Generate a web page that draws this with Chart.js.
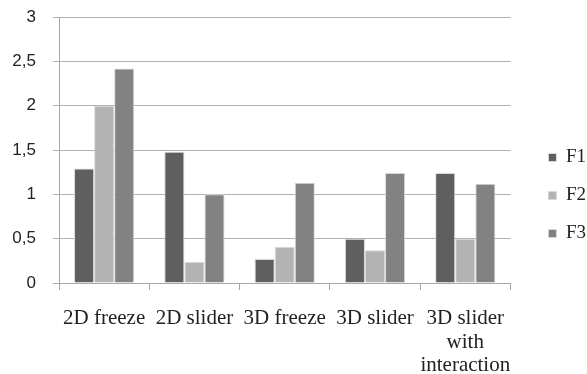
<!DOCTYPE html>
<html lang="en">
<head>
    <meta charset="UTF-8">
    <title>F1 F2 F3</title>
    <script src="https://cdn.jsdelivr.net/npm/chart.js"></script>
    <style>
        body {
            margin: 0;
            padding: 0;
            background-color: #fff;
        }

        .wrap {
            width: 587px;
            height: 374px;
        }
    </style>
</head>
<body>
    <div class="wrap">
        <canvas id="myChart" width="587" height="374"></canvas>
    </div>

<script>
    var categories = ['2D freeze', '2D slider', '3D freeze', '3D slider', ['3D slider', 'with', 'interaction']];
    var seriesNames = ['F1', 'F2', 'F3'];
    var f1 = [1.29, 1.48, 0.27, 0.5, 1.24];
    var f2 = [2.0, 0.24, 0.41, 0.37, 0.5];
    var f3 = [2.42, 1.0, 1.13, 1.24, 1.12];
    var yTicks = [0, 0.5, 1, 1.5, 2, 2.5, 3];

    var colors = ['#5f5f5f', '#b3b3b3', '#828282'];
    var serif = 'Liberation Serif';
    var sans = 'Liberation Sans';

    // push the legend a bit away from the plot, like the original
    var legendShift = {
        id: 'legendShift',
        afterLayout: function(chart) {
            var lg = chart.legend;
            lg.left += 19;
            lg.right += 19;
        }
    };

    var ctx = document.getElementById('myChart').getContext('2d');
    var myChart = new Chart(ctx, {
        type: 'bar',
        data: {
            labels: categories,
            datasets: [f1, f2, f3].map(function(vals, i) {
                return {
                    label: seriesNames[i],
                    data: vals,
                    backgroundColor: colors[i],
                    borderColor: '#d8d8d8',
                    borderWidth: 1,
                    categoryPercentage: 0.667,
                    barPercentage: 1
                };
            })
        },
        options: {
            responsive: false,
            animation: false,
            layout: {
                padding: { top: 17, right: 10, left: 0, bottom: 0 }
            },
            scales: {
                x: {
                    afterFit: function(axis) {
                        axis.paddingLeft = 0;
                        axis.paddingRight = 0;
                        axis.height = 91;
                    },
                    grid: {
                        display: true,
                        drawOnChartArea: false,
                        color: '#a8a8a8',
                        tickLength: 7,
                        offset: true
                    },
                    border: { color: '#a8a8a8' },
                    ticks: {
                        color: '#222',
                        font: { family: serif, size: 21, lineHeight: 1.12 },
                        maxRotation: 0,
                        autoSkip: false,
                        padding: 17
                    }
                },
                y: {
                    min: 0,
                    max: 3,
                    afterBuildTicks: function(axis) {
                        axis.ticks = yTicks.map(function(v) { return { value: v }; });
                    },
                    afterFit: function(axis) {
                        axis.paddingTop = 0;
                        axis.paddingBottom = 0;
                        axis.width = 59;
                    },
                    grid: {
                        color: '#b0b0b0',
                        tickLength: 6
                    },
                    border: { color: '#a8a8a8' },
                    ticks: {
                        color: '#222',
                        font: { family: sans, size: 17 },
                        padding: 17,
                        callback: function(v) { return String(v).replace('.', ','); }
                    }
                }
            },
            plugins: {
                legend: {
                    position: 'right',
                    labels: {
                        color: '#222',
                        font: { family: serif, size: 19 },
                        boxWidth: 8,
                        boxHeight: 8,
                        padding: 19
                    }
                },
                tooltip: { enabled: false }
            }
        },
        plugins: [legendShift]
    });
</script>
</body>
</html>
